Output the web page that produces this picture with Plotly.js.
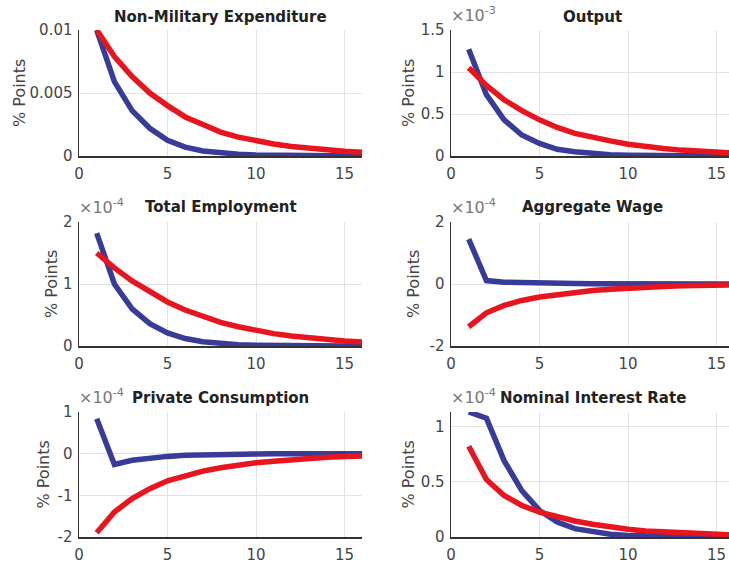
<!DOCTYPE html>
<html>
<head>
<meta charset="utf-8">
<script src="https://cdn.plot.ly/plotly-3.0.1.min.js"></script>
<style>html,body{margin:0;padding:0;background:#fff;}#chart{width:729px;height:563px;}</style>
</head>
<body>
<div id="chart"></div>
<script>
// ---- data ----
const periods = [1,2,3,4,5,6,7,8,9,10,11,12,13,14,15,16];

const titles = ["Non-Military Expenditure","Output","Total Employment","Aggregate Wage","Private Consumption","Nominal Interest Rate"];
const exponents = ["", "-3", "-4", "-4", "-4", "-4"];

const expBlue = [0.01,0.0059,0.0036,0.0022,0.00125,0.0007,0.0004,0.00024,0.00014,0.00008,0.00005,0.00003,0.00002,0.00001,0.00001,0];
const expRed  = [0.01,0.0079,0.0063,0.005,0.004,0.0031,0.0025,0.0019,0.0015,0.0012,0.00095,0.00075,0.0006,0.00048,0.00038,0.0003];

const outBlue = [1.27,0.73,0.43,0.25,0.15,0.08,0.05,0.03,0.015,0.01,0.006,0.004,0.002,0.001,0.001,0];
const outRed  = [1.05,0.84,0.67,0.54,0.43,0.34,0.27,0.22,0.18,0.14,0.11,0.09,0.07,0.06,0.045,0.036];

const empBlue = [1.82,1.0,0.6,0.36,0.21,0.12,0.07,0.04,0.02,0.013,0.007,0.004,0.002,0.001,0.001,0];
const empRed  = [1.5,1.26,1.05,0.87,0.71,0.58,0.47,0.38,0.31,0.25,0.2,0.16,0.13,0.1,0.08,0.065];

const wageBlue = [1.45,0.11,0.06,0.04,0.03,0.02,0.015,0.01,0.008,0.006,0.004,0.003,0.002,0.001,0.001,0];
const wageRed  = [-1.38,-0.93,-0.69,-0.53,-0.42,-0.34,-0.26,-0.21,-0.17,-0.13,-0.1,-0.08,-0.06,-0.05,-0.04,-0.03];

const consBlue = [0.84,-0.26,-0.16,-0.1,-0.065,-0.04,-0.025,-0.015,-0.01,-0.006,-0.004,-0.002,-0.001,0,0,0];
const consRed  = [-1.9,-1.4,-1.08,-0.84,-0.65,-0.52,-0.42,-0.34,-0.27,-0.22,-0.18,-0.14,-0.11,-0.085,-0.065,-0.055];

const rateBlue = [1.13,1.075,0.69,0.42,0.24,0.135,0.075,0.045,0.025,0.014,0.008,0.005,0.003,0.002,0.001,0];
const rateRed  = [0.82,0.52,0.375,0.285,0.225,0.18,0.145,0.115,0.09,0.07,0.055,0.045,0.035,0.028,0.022,0.018];

const xTicks = [0,5,10,15];
const yTicks = [[0,0.005,0.01],[0,0.5,1,1.5],[0,1,2],[-2,0,2],[-2,-1,0,1],[0,0.5,1]];
const yTickText = [["0","0.005","0.01"],["0","0.5","1","1.5"],["0","1","2"],["-2","0","2"],["-2","-1","0","1"],["0","0.5","1"]];
const yRanges = [[0,0.01],[0,1.5],[0,2],[-2,2],[-2,1],[0,1.13]];
const yLabel = "% Points";

const blueSeries = [expBlue,outBlue,empBlue,wageBlue,consBlue,rateBlue];
const redSeries  = [expRed,outRed,empRed,wageRed,consRed,rateRed];

// ---- layout geometry (pixels) ----
const W = 729, H = 563;
const colLeft = [79, 451];
const pxPerUnit = 17.7;
const rowTop = [30, 222, 412];
const rowBot = [156, 346, 537];
const ylabelX = [19, 408, 51, 413, 43, 408];
const titleY = [17, 207, 398];

const BLUE = "#383c98", RED = "#e8141e";
const AXC = "#333333", GRID = "#e2e2e2";
const FONT = "DejaVu Sans, Arial, sans-serif";

const data = [];
const layout = {
  width: W, height: H, margin: {l:0,r:0,t:0,b:0},
  paper_bgcolor: "#fff", plot_bgcolor: "#fff",
  showlegend: false, annotations: []
};

for (let i = 0; i < 6; i++) {
  const col = i % 2, row = Math.floor(i / 2);
  const x0 = colLeft[col];
  const x1 = Math.min(W, x0 + 16 * pxPerUnit);
  const xmax = (x1 - x0) / pxPerUnit;
  const sfx = i === 0 ? "" : String(i + 1);
  const xa = "x" + sfx, ya = "y" + sfx;
  data.push({x: periods, y: blueSeries[i], xaxis: xa, yaxis: ya, mode: "lines",
             line: {color: BLUE, width: 5.5}, hoverinfo: "skip"});
  data.push({x: periods, y: redSeries[i], xaxis: xa, yaxis: ya, mode: "lines",
             line: {color: RED, width: 5.5}, hoverinfo: "skip"});
  layout["xaxis" + sfx] = {
    domain: [x0 / W, x1 / W], anchor: ya, range: [0, xmax],
    tickvals: xTicks, ticktext: xTicks.map(String), showgrid: true, gridcolor: GRID, gridwidth: 1,
    zeroline: false, showline: true, linecolor: AXC, linewidth: 1.5, ticks: "",
    tickfont: {family: FONT, size: 15, color: "#444"}, ticklabelstandoff: 3, fixedrange: true
  };
  layout["yaxis" + sfx] = {
    domain: [1 - rowBot[row] / H, 1 - rowTop[row] / H], anchor: xa, range: yRanges[i],
    tickvals: yTicks[i], ticktext: yTickText[i], showgrid: true, gridcolor: GRID, gridwidth: 1,
    zeroline: false, showline: true, linecolor: AXC, linewidth: 1.5, ticks: "",
    tickfont: {family: FONT, size: 15, color: "#444"}, ticklabelstandoff: 2, fixedrange: true
  };
  // title
  layout.annotations.push({
    text: "<b>" + titles[i] + "</b>", xref: "paper", yref: "paper",
    x: (x0 + 16 * pxPerUnit / 2) / W, y: 1 - titleY[row] / H, xanchor: "center", yanchor: "middle",
    showarrow: false, font: {family: FONT, size: 15, color: "#222"}
  });
  // y label
  layout.annotations.push({
    text: yLabel, xref: "paper", yref: "paper", textangle: -90,
    x: ylabelX[i] / W, y: 1 - (rowTop[row] + rowBot[row]) / 2 / H, xanchor: "center", yanchor: "middle",
    showarrow: false, font: {family: FONT, size: 16, color: "#444"}
  });
  // exponent
  if (exponents[i]) {
    layout.annotations.push({
      text: "×10<sup>" + exponents[i] + "</sup>", xref: "paper", yref: "paper",
      x: (x0 - 2) / W, y: 1 - (rowTop[row] - 3) / H, xanchor: "left", yanchor: "bottom",
      showarrow: false, font: {family: FONT, size: 16, color: "#777"}
    });
  }
}

Plotly.newPlot("chart", data, layout, {staticPlot: true, displayModeBar: false});
</script>
</body>
</html>
